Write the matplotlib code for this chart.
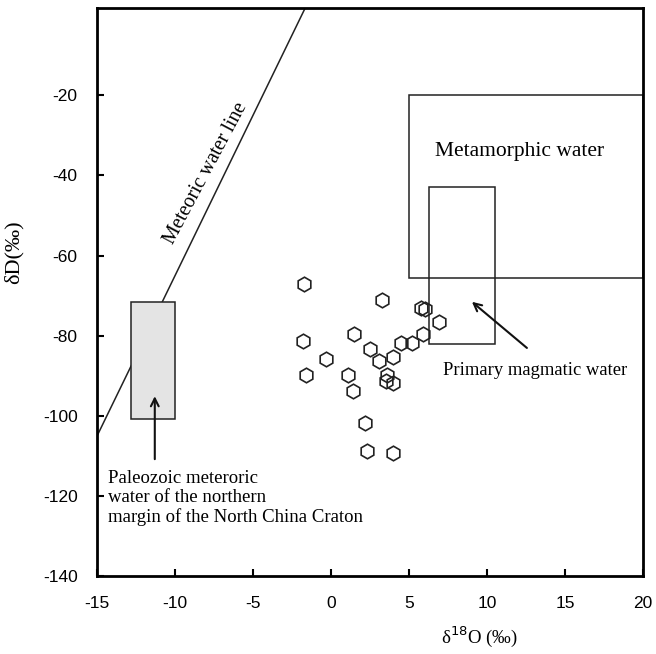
import numpy as np
import matplotlib
matplotlib.use("Agg")
import matplotlib.pyplot as plt
from matplotlib.patches import Rectangle

# oxygen / hydrogen isotope data of the fluid inclusions
d18O = [-1.7, 3.3, 5.8, 6.0, 6.9, -1.8, 1.5, 5.9, 5.2, 4.5, -0.3, 2.5, 4.0, 3.1,
        -1.6, 1.1, 3.6, 3.5, 4.0, 1.4, 2.2, 2.3, 4.0]
dD = [-67.0, -71.0, -73.2, -73.4, -76.7, -81.4, -79.6, -79.6, -81.7, -81.7, -85.7,
      -83.4, -85.2, -86.2, -89.7, -89.9, -89.7, -91.4, -91.9, -93.7, -101.9, -108.7,
      -109.2]

# reference fields: (x0, x1, y0, y1)
metamorphic = (5, 20, -65.5, -20)
magmatic = (6.3, 10.5, -82, -43)
paleozoic = (-12.8, -10, -100.7, -71.7)

# meteoric water line dD = a * d18O + b
mwl_a, mwl_b = 8, 15

serif = "Liberation Serif"
plt.rcParams["font.family"] = "Liberation Sans"
plt.rcParams["axes.unicode_minus"] = False

fig = plt.figure(figsize=(6.56, 6.54), dpi=100)
ax = fig.add_axes([0.148, 0.119, 0.832, 0.869])

# fields
for (x0, x1, y0, y1), fc in [(metamorphic, "none"), (magmatic, "none"), (paleozoic, "#e4e4e4")]:
    ax.add_patch(Rectangle((x0, y0), x1 - x0, y1 - y0, facecolor=fc,
                           edgecolor="#222222", linewidth=1.1, zorder=2))

# meteoric water line
xl = np.array([-15, 5])
ax.plot(xl, mwl_a * xl + mwl_b, color="#222222", linewidth=1.1, zorder=1)

ax.plot(d18O, dD, linestyle="none", marker="h", markersize=10.5,
        markerfacecolor="none", markeredgecolor="#222222", markeredgewidth=1.2, zorder=3)

ax.text(-8.0, -39.5, "Meteoric water line", rotation=62, fontsize=14.5,
        family=serif, ha="center", va="center")
ax.text(6.7, -34, "Metamorphic water", fontsize=15.5, family=serif, va="center")
ax.text(7.2, -88.7, "Primary magmatic water", fontsize=13.4, family=serif, va="center")
ax.text(-14.3, -120.5, "Paleozoic meteroric\nwater of the northern\nmargin of the North China Craton",
        fontsize=13.5, family=serif, va="center", linespacing=1.13)

arrow = dict(arrowstyle="->", color="#111111", lw=1.5, mutation_scale=14)
ax.annotate("", xy=(-11.3, -94.4), xytext=(-11.3, -111.5), arrowprops=arrow)
ax.annotate("", xy=(8.9, -71.1), xytext=(12.7, -83.5), arrowprops=arrow)

ax.set_xlim(-15, 20)
ax.set_ylim(-140, 1.8)
ax.set_xticks(range(-15, 21, 5))
ax.set_yticks(range(-140, -19, 20))
ax.tick_params(direction="in", length=5, width=1.5, labelsize=12.5, pad=14)
for s in ax.spines.values():
    s.set_linewidth(2)

ax.set_ylabel("δD(‰)", family=serif, fontsize=16)
ax.yaxis.set_label_coords(-0.135, 0.57)
ax.set_xlabel(r"δ$^{18}$O (‰)", family=serif, fontsize=13.5)
ax.xaxis.set_label_coords(0.70, -0.085)

fig.savefig("out.png", dpi=100)
